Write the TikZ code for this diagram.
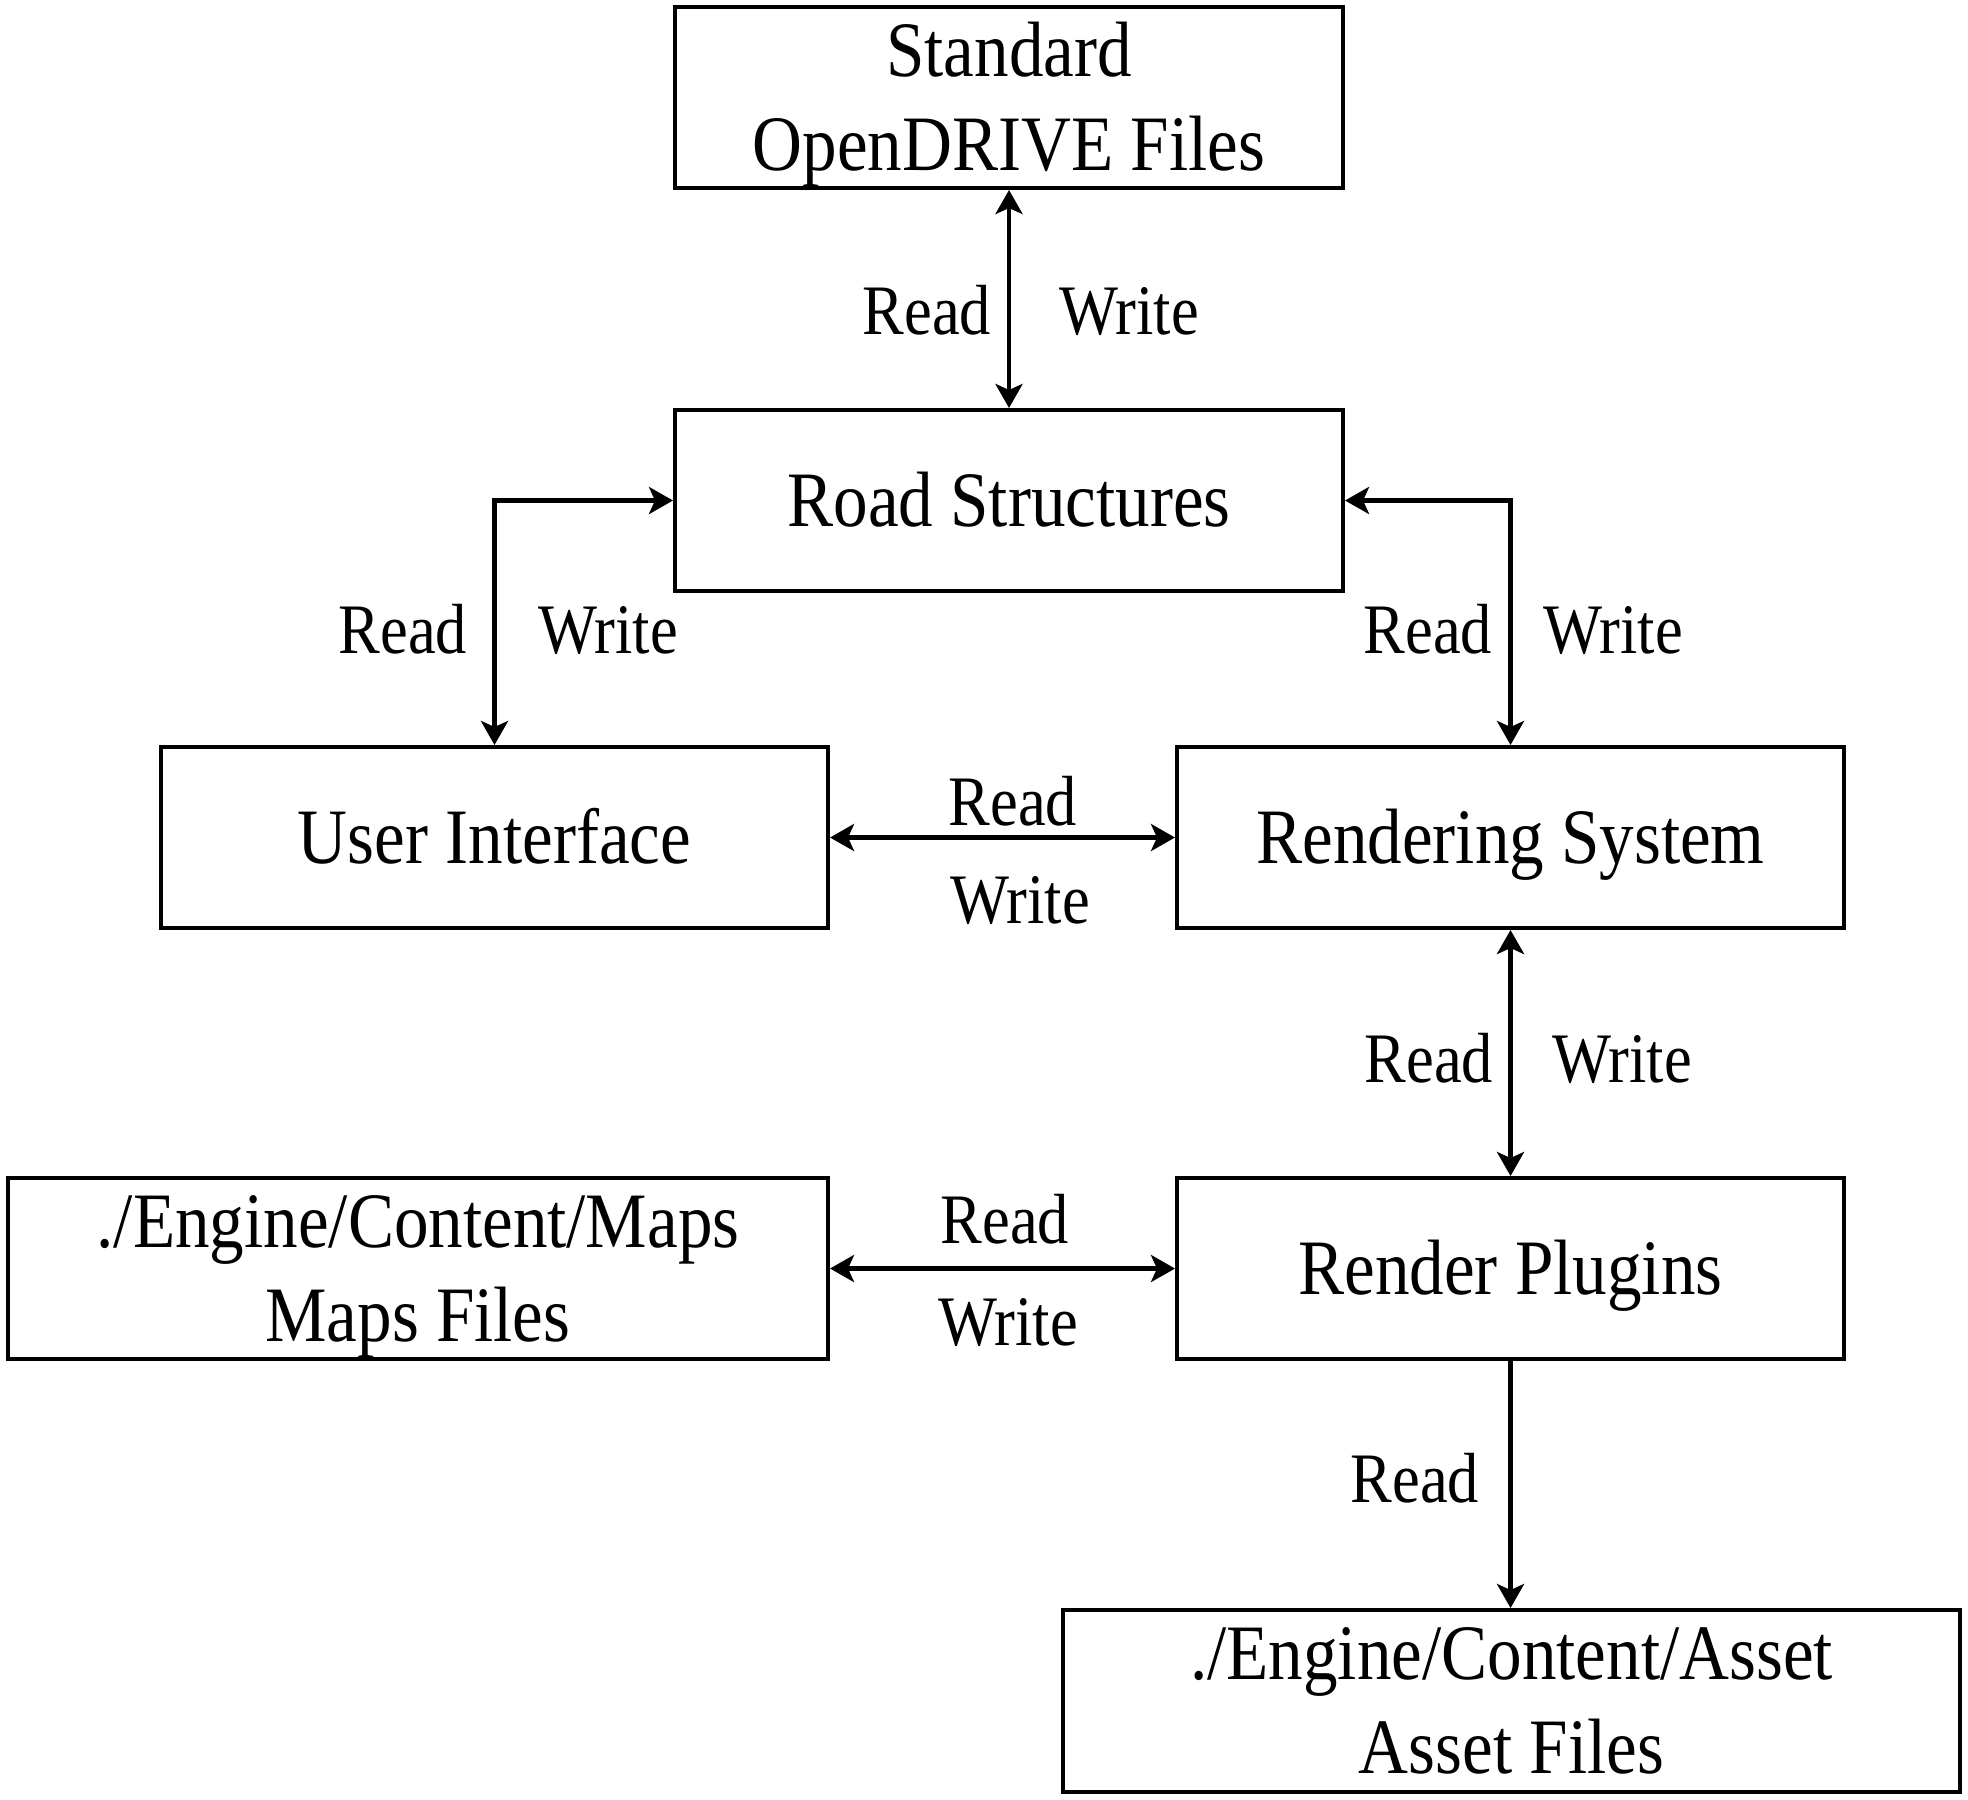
\documentclass[tikz,border=0pt]{standalone}
\usepackage{fontspec}
\setmainfont{Liberation Serif}[FakeStretch=0.88]
\usetikzlibrary{arrows.meta}
\newcommand{\boxfont}{\fontsize{39.25pt}{47pt}\selectfont}
\newcommand{\lblfont}{\fontsize{35.5pt}{42.6pt}\selectfont}
\newcommand{\twoline}[2]{\begin{tabular}[b]{@{}c@{}}#1\\#2\end{tabular}}
\begin{document}
\begin{tikzpicture}[x=0.5pt,y=-0.5pt,
  >={Stealth[length=12pt,width=13.5pt,inset=3pt]},
  blk/.style={draw, line width=2pt, inner sep=0pt, minimum height=90.5pt,
    font=\boxfont, text depth=0pt, text height=25.5pt},
  blktwo/.style={blk, text height=72.5pt},
  conn/.style={line width=2.2pt},
  lbl/.style={font=\lblfont, anchor=base, inner sep=0pt}]
\useasboundingbox (0,0) rectangle (1968,1799);
% boxes
\node[blktwo, minimum width=334pt] (A) at (1009,97.5) {\twoline{Standard}{OpenDRIVE Files}};
\node[blk, minimum width=334pt] (B) at (1009,500.5) {Road Structures};
\node[blk, minimum width=333.5pt] (C) at (494.5,837.5) {User Interface};
\node[blk, minimum width=333.5pt] (D) at (1510.5,837.5) {Rendering System};
\node[blktwo, minimum width=410pt] (E) at (418,1268.5) {\twoline{./Engine/Content/Maps}{Maps Files}};
\node[blk, minimum width=333.5pt] (F) at (1510.5,1268.5) {Render Plugins};
\node[blktwo, minimum width=448.5pt, minimum height=91pt] (G) at (1511.5,1701) {\twoline{./Engine/Content/Asset}{Asset Files}};
% connectors
\draw[conn,<->] (A.south) -- (B.north);
\draw[conn,<->] (B.west) -| (C.north);
\draw[conn,<->] (B.east) -| (D.north);
\draw[conn,<->] (C.east) -- (D.west);
\draw[conn,<->] (D.south) -- (F.north);
\draw[conn,<->] (E.east) -- (F.west);
\draw[conn,->] (F.south) -- (F.south |- G.north);
% labels
\node[lbl] (l1r) at (927,334) {Read};
\node[lbl] (l1w) at (1129,334) {Write};
\node[lbl] (l2r) at (403,653) {Read};
\node[lbl] (l2w) at (608,653) {Write};
\node[lbl] (l3r) at (1428,653) {Read};
\node[lbl] (l3w) at (1613,653) {Write};
\node[lbl] (l4r) at (1013,825) {Read};
\node[lbl] (l4w) at (1020,923) {Write};
\node[lbl] (l5r) at (1429,1082) {Read};
\node[lbl] (l5w) at (1622,1082) {Write};
\node[lbl] (l6r) at (1005,1243) {Read};
\node[lbl] (l6w) at (1008,1345) {Write};
\node[lbl] (l7r) at (1415,1502) {Read};
\end{tikzpicture}
\end{document}
